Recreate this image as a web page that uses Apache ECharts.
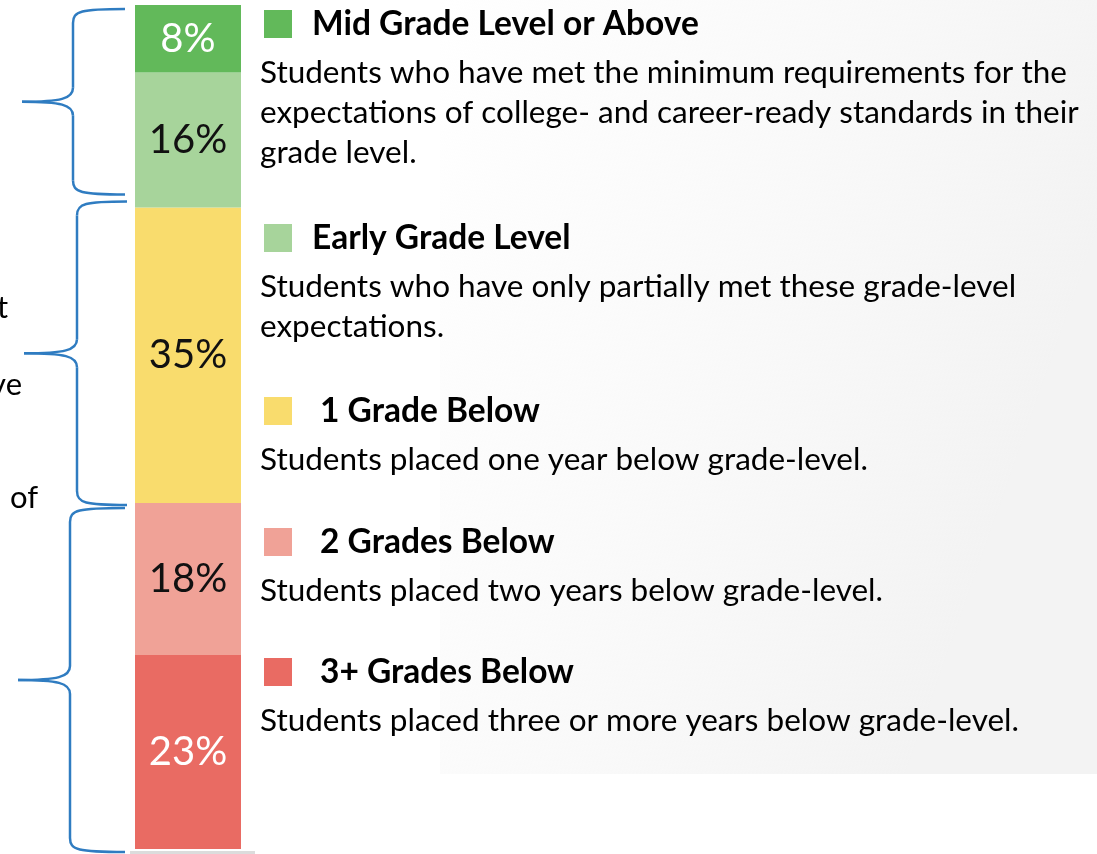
<!DOCTYPE html>
<html>
<head>
<meta charset="utf-8">
<script src="https://cdn.jsdelivr.net/npm/echarts@6/dist/echarts.min.js"></script>
<style>
  html, body { margin: 0; padding: 0; background: #fff; }
  #main { width: 1097px; height: 854px; }
</style>
</head>
<body>
<div id="main"></div>
<script>
// segments from bottom to top of the stacked bar
const levels = ['3+ Grades Below', '2 Grades Below', '1 Grade Below', 'Early Grade Level', 'Mid Grade Level or Above'];
const shares = [23, 18, 35, 16, 8];
const colors = ['#e96b63', '#f0a297', '#f9dc6d', '#a7d49b', '#62b95a'];
const labelColors = ['#ffffff', '#111111', '#111111', '#111111', '#ffffff'];

// legend texts, top to bottom
const legendTitles = ['Mid Grade Level or Above', 'Early Grade Level', '1 Grade Below', '2 Grades Below', '3+ Grades Below'];
const legendText = [
    ['Students who have met the minimum requirements for the', 'expectations of college- and career-ready standards in their', 'grade level.'],
    ['Students who have only partially met these grade-level', 'expectations.'],
    ['Students placed one year below grade-level.'],
    ['Students placed two years below grade-level.'],
    ['Students placed three or more years below grade-level.']
];
// bracket groups: [from, to] in cumulative percent
const groups = [[76, 100], [41, 76], [0, 41]];
// cut-off words at the left edge
const leftWords = ['t', 've', 'of'];

const FONT = 'Lato, "Open Sans", sans-serif';
const BRACE = {stroke: '#2f7cc1', lineWidth: 2.5, fill: null};

// a curly brace built from lines and bezier pieces
function brace(xEnd, xV, xTip, yTop, yBot) {
    const yMid = (yTop + yBot) / 2;
    const r = 14;
    const curve = (x1, y1, c1x, c1y, c2x, c2y, x2, y2) => ({
        type: 'bezierCurve', silent: true,
        shape: {x1: x1, y1: y1, cpx1: c1x, cpy1: c1y, cpx2: c2x, cpy2: c2y, x2: x2, y2: y2},
        style: BRACE
    });
    const line = (x1, y1, x2, y2) => ({
        type: 'line', silent: true,
        shape: {x1: x1, y1: y1, x2: x2, y2: y2},
        style: BRACE
    });
    return [
        curve(xEnd, yTop, xV + 8, yTop, xV, yTop + 2, xV, yTop + r),
        line(xV, yTop + r, xV, yMid - r),
        curve(xV, yMid - r, xV, yMid - 3, xV - 12, yMid, xTip, yMid),
        curve(xTip, yMid, xV - 12, yMid, xV, yMid + 3, xV, yMid + r),
        line(xV, yMid + r, xV, yBot - r),
        curve(xV, yBot - r, xV, yBot - 2, xV + 8, yBot, xEnd, yBot)
    ];
}

function draw() {
    const chart = echarts.init(document.getElementById('main'));

    const series = shares.map((v, i) => ({
        name: levels[i],
        type: 'bar',
        stack: 'all',
        barWidth: '100%',
        data: [v],
        itemStyle: {color: colors[i]},
        label: {
            show: true,
            position: 'inside',
            formatter: '{c}%',
            color: labelColors[i],
            fontFamily: FONT,
            fontSize: 40,
            fontWeight: 'normal'
        }
    }));

    chart.setOption({
        animation: false,
        grid: {left: 135, top: 5, width: 106, height: 844},
        xAxis: {type: 'category', data: ['Students'], show: false},
        yAxis: {type: 'value', min: 0, max: 100, show: false},
        series: series
    });

    const yOf = v => chart.convertToPixel({yAxisIndex: 0}, v);

    const braceX = [[125, 73, 22], [127, 77, 24], [125, 70, 18]];
    const braceGap = [[4, 13], [-6, -2], [5, -3]];

    let graphics = [];

    // faint slide shading on the right
    graphics.push({
        type: 'rect', z: -10, silent: true,
        shape: {x: 440, y: 0, width: 657, height: 774},
        style: {
            fill: new echarts.graphic.LinearGradient(0, 0, 1, 0.3, [
                {offset: 0, color: 'rgba(246,246,246,0)'},
                {offset: 0.25, color: 'rgba(248,248,248,0.4)'},
                {offset: 1, color: 'rgba(243,243,243,1)'}
            ])
        }
    });

    // thin grey base under the bar
    graphics.push({
        type: 'rect', silent: true,
        shape: {x: 130, y: 851, width: 125, height: 3},
        style: {fill: '#dcdcdc'}
    });

    groups.forEach((g, i) => {
        const yTop = yOf(g[1]) + braceGap[i][0];
        const yBot = yOf(g[0]) - braceGap[i][1];
        graphics = graphics.concat(brace(braceX[i][0], braceX[i][1], braceX[i][2], yTop, yBot));
    });

    const leftPos = [[8, 308, 'right'], [22, 385, 'right'], [10, 498, 'left']];
    leftWords.forEach((w, i) => {
        graphics.push({
            type: 'text', silent: true,
            x: leftPos[i][0], y: leftPos[i][1],
            style: {text: w, fontFamily: FONT, fontSize: 31, fill: '#000', align: leftPos[i][2], verticalAlign: 'middle'}
        });
    });

    // legend block: square, bold title, description lines
    const titleY = [24, 238, 411, 542, 672];
    const titleX = [312, 312, 320, 320, 320];
    legendTitles.forEach((t, i) => {
        const idx = levels.indexOf(t);
        graphics.push({
            type: 'rect', silent: true,
            shape: {x: 264, y: titleY[i] - 14, width: 28, height: 28},
            style: {fill: colors[idx]}
        });
        graphics.push({
            type: 'text', silent: true,
            x: titleX[i], y: titleY[i],
            style: {text: t, fontFamily: FONT, fontSize: 33.5, fontWeight: 'bold', fill: '#000', verticalAlign: 'middle'}
        });
        legendText[i].forEach((line, j) => {
            graphics.push({
                type: 'text', silent: true,
                x: 260, y: titleY[i] + 49 + j * 40,
                style: {text: line, fontFamily: FONT, fontSize: 31.5, fill: '#000', verticalAlign: 'middle'}
            });
        });
    });

    chart.setOption({graphic: graphics});
}

Promise.all([
    document.fonts.load('40px Lato'),
    document.fonts.load('bold 34px Lato')
]).then(draw, draw);
</script>
</body>
</html>
